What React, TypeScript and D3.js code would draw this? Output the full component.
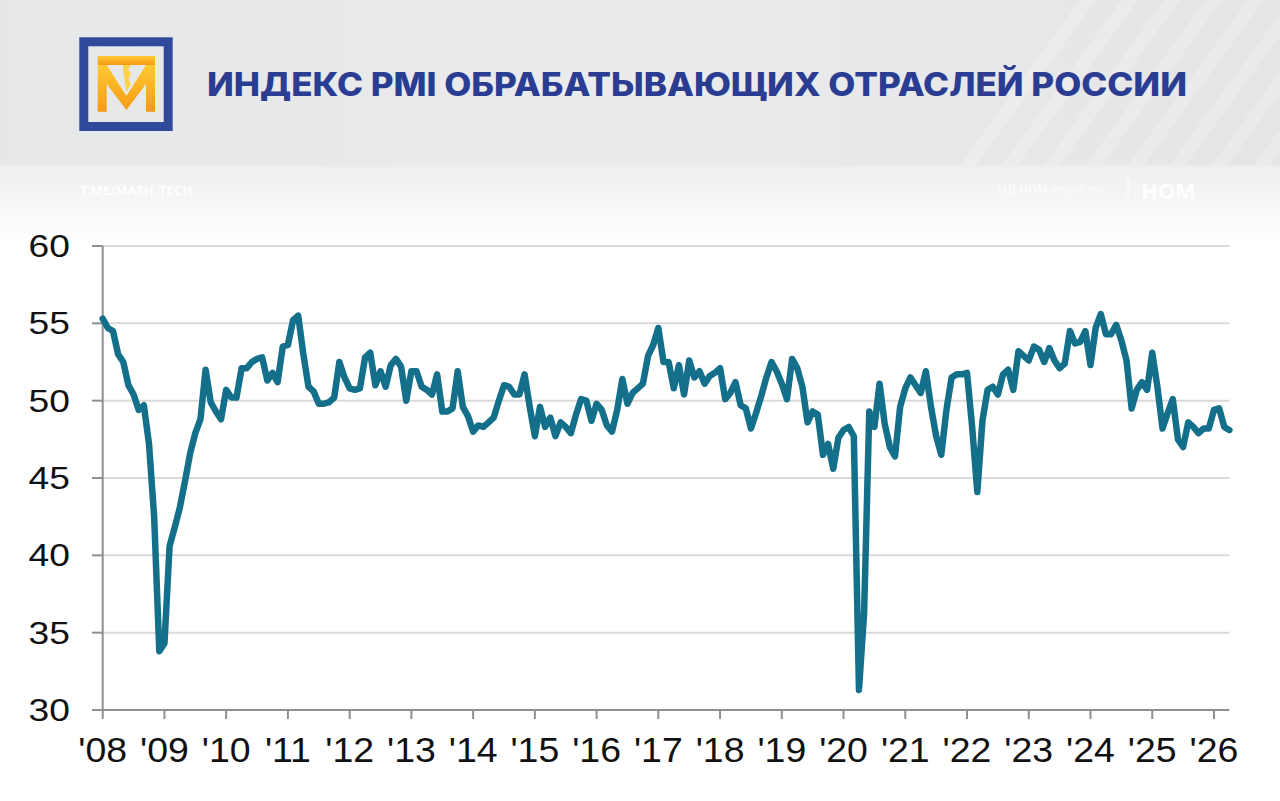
import * as d3 from "d3"

// Monthly manufacturing PMI, Russia
const pmi2008 = [55.3, 54.7, 54.5, 53.0, 52.5, 51.0, 50.4, 49.4, 49.7, 47.2, 42.5, 33.8]
const pmi2009 = [34.3, 40.6, 41.8, 43.1, 44.8, 46.6, 47.9, 48.8, 52.0, 49.9, 49.3, 48.8]
const pmi2010 = [50.7, 50.2, 50.2, 52.1, 52.1, 52.5, 52.7, 52.8, 51.3, 51.8, 51.2, 53.5]
const pmi2011 = [53.6, 55.2, 55.5, 53.0, 50.9, 50.6, 49.8, 49.8, 49.9, 50.2, 52.5, 51.5]
const pmi2012 = [50.8, 50.7, 50.8, 52.8, 53.1, 51.0, 51.9, 50.9, 52.3, 52.7, 52.2, 50.0]
const pmi2013 = [51.9, 51.9, 50.9, 50.7, 50.4, 51.7, 49.3, 49.3, 49.5, 51.9, 49.6, 49.0]
const pmi2014 = [48.0, 48.4, 48.3, 48.6, 48.9, 50.0, 51.0, 50.9, 50.4, 50.4, 51.7, 49.6]
const pmi2015 = [47.7, 49.6, 48.3, 48.9, 47.7, 48.6, 48.3, 47.9, 49.1, 50.1, 50.0, 48.7]
const pmi2016 = [49.8, 49.4, 48.4, 48.0, 49.4, 51.4, 49.8, 50.5, 50.8, 51.1, 52.9, 53.6]
const pmi2017 = [54.7, 52.5, 52.5, 50.8, 52.3, 50.4, 52.6, 51.5, 51.9, 51.1, 51.6, 51.8]
const pmi2018 = [52.1, 50.1, 50.5, 51.2, 49.7, 49.5, 48.2, 49.2, 50.3, 51.5, 52.5, 51.9]
const pmi2019 = [51.1, 50.1, 52.7, 52.1, 50.9, 48.6, 49.3, 49.1, 46.5, 47.2, 45.6, 47.6]
const pmi2020 = [48.1, 48.3, 47.7, 31.3, 36.3, 49.3, 48.3, 51.1, 48.5, 47.0, 46.4, 49.6]
const pmi2021 = [50.8, 51.5, 51.0, 50.5, 51.9, 49.6, 47.7, 46.5, 49.4, 51.5, 51.7, 51.7]
const pmi2022 = [51.8, 48.3, 44.1, 48.7, 50.7, 50.9, 50.4, 51.7, 52.0, 50.7, 53.2, 52.9]
const pmi2023 = [52.6, 53.5, 53.3, 52.5, 53.4, 52.6, 52.1, 52.4, 54.5, 53.7, 53.8, 54.5]
const pmi2024 = [52.3, 54.7, 55.6, 54.3, 54.3, 54.9, 53.9, 52.6, 49.5, 50.7, 51.2, 50.7]
const pmi2025 = [53.1, 50.9, 48.2, 49.2, 50.1, 47.5, 47.0, 48.6, 48.3, 47.9, 48.2, 48.2]
const pmi2026 = [49.4, 49.5, 48.3, 48.1]

const pmi = [
  ...pmi2008, ...pmi2009, ...pmi2010, ...pmi2011, ...pmi2012, ...pmi2013, ...pmi2014,
  ...pmi2015, ...pmi2016, ...pmi2017, ...pmi2018, ...pmi2019, ...pmi2020, ...pmi2021,
  ...pmi2022, ...pmi2023, ...pmi2024, ...pmi2025, ...pmi2026,
]

const startYear = 2008
const yearTicks = d3.range(2008, 2027)
const valueTicks = [30, 35, 40, 45, 50, 55, 60]

const title = "ИНДЕКС PMI ОБРАБАТЫВАЮЩИХ ОТРАСЛЕЙ РОССИИ"

const W = 1280
const H = 801

export default function App() {
  const x = d3.scaleLinear().domain([2008, 2026.25]).range([102.7, 1229.4])
  const y = d3.scaleLinear().domain([30, 60]).range([710, 246])

  const line = d3
    .line<number>()
    .x((_, i) => x(startYear + i / 12))
    .y((d) => y(d))

  const [x0, x1] = x.range()

  // faint diagonal stripes in the header, right side
  const stripes = d3.range(0, 9).map((k) => 960 + k * 42)

  return (
    <svg
      width={W}
      height={H}
      viewBox={`0 0 ${W} ${H}`}
      style={{ position: "absolute", left: 0, top: 0, background: "#fff" }}
    >
      <defs>
        <linearGradient id="fade" x1="0" y1="0" x2="0" y2="1">
          <stop offset="0" stopColor="#eeeef0" />
          <stop offset="1" stopColor="#ffffff" />
        </linearGradient>
        <linearGradient id="head" x1="0" y1="0" x2="1" y2="0">
          <stop offset="0" stopColor="#e6e7e9" />
          <stop offset="0.5" stopColor="#ebebed" />
          <stop offset="1" stopColor="#e4e5e7" />
        </linearGradient>
        <linearGradient id="gold" x1="0" y1="0" x2="0" y2="1">
          <stop offset="0" stopColor="#ffc933" />
          <stop offset="1" stopColor="#f59a12" />
        </linearGradient>
        <clipPath id="headClip">
          <rect x={0} y={0} width={W} height={165} />
        </clipPath>
      </defs>

      {/* header */}
      <rect x={0} y={0} width={W} height={165} fill="url(#head)" />
      <g clipPath="url(#headClip)">
        {stripes.map((sx, k) => (
          <polygon
            key={k}
            points={`${sx},165 ${sx + 16},165 ${sx + 16 + 120},0 ${sx + 120},0`}
            fill="#ffffff"
            opacity={0.22}
          />
        ))}
      </g>
      <rect x={0} y={165} width={W} height={75} fill="url(#fade)" />

      {/* logo */}
      <rect x={83.8} y={41.8} width={84.4} height={84.7} fill="none" stroke="#2f4a9c" strokeWidth={9} />
      <rect x={97.7} y={56} width={57.3} height={9} fill="url(#gold)" />
      <path
        d="M97.7,65 L106.7,65 L126.4,96 L146,65 L155,65 L155,111.7 L146,111.7 L146,84 L126.4,110 L106.7,84 L106.7,111.7 L97.7,111.7 Z"
        fill="url(#gold)"
      />
      <path d="M122.5,65 L130.5,65 L128.5,70 L131,74 L128.5,79 L131,84 L126.4,92 Z" fill="#ffd24a" />

      <text
        x={207}
        y={96}
        fontFamily="Inter, 'Noto Sans', sans-serif"
        fontWeight={800}
        fontSize={32}
        fill="#2b3d92"
        textLength={980}
        lengthAdjust="spacingAndGlyphs"
      >
        {title}
      </text>

      {/* watermarks */}
      <text x={80} y={195} fontFamily="'Noto Sans', sans-serif" fontWeight={700} fontSize={13} fill="#ffffff" opacity={0.95}>
        T.ME/MASH_TECH
      </text>
      <text x={998} y={194} fontFamily="'Noto Sans', sans-serif" fontSize={12} fill="#ffffff" opacity={0.9}>
        ИД НОМ invest.ru
      </text>
      <line x1={1128} x2={1128} y1={178} y2={202} stroke="#ffffff" strokeWidth={1} opacity={0.9} />
      <text x={1141} y={199} fontFamily="'Noto Sans', sans-serif" fontWeight={700} fontSize={22} fill="#ffffff" opacity={0.95}>
        НОМ
      </text>

      {/* grid */}
      {valueTicks.map((v) => (
        <g key={v}>
          {v > 30 && <line x1={x0} x2={x1} y1={y(v)} y2={y(v)} stroke="#d9d9d9" strokeWidth={2} />}
          <line x1={92} x2={x0} y1={y(v)} y2={y(v)} stroke="#8f8f8f" strokeWidth={2} />
          <text
            transform={`translate(70,${y(v) + 11}) scale(1.2,1)`}
            textAnchor="end"
            fontFamily="'Liberation Sans', Arial, sans-serif"
            fontSize={31}
            fill="#111"
          >
            {v}
          </text>
        </g>
      ))}

      {/* axes */}
      <line x1={x0} x2={x0} y1={y(60)} y2={y(30)} stroke="#8f8f8f" strokeWidth={2} />
      <line x1={92} x2={x1} y1={y(30)} y2={y(30)} stroke="#8f8f8f" strokeWidth={2} />
      {yearTicks.map((yr) => (
        <g key={yr}>
          <line x1={x(yr)} x2={x(yr)} y1={y(30)} y2={y(30) + 9} stroke="#8f8f8f" strokeWidth={2} />
          <text
            transform={`translate(${x(yr)},761.5) scale(1.07,1)`}
            textAnchor="middle"
            fontFamily="'Liberation Sans', Arial, sans-serif"
            fontSize={35}
            fill="#111"
          >
            {"'" + String(yr % 100).padStart(2, "0")}
          </text>
        </g>
      ))}

      {/* series */}
      <path
        d={line(pmi) ?? ""}
        fill="none"
        stroke="#14708a"
        strokeWidth={6.5}
        strokeLinejoin="round"
        strokeLinecap="round"
      />
    </svg>
  )
}
